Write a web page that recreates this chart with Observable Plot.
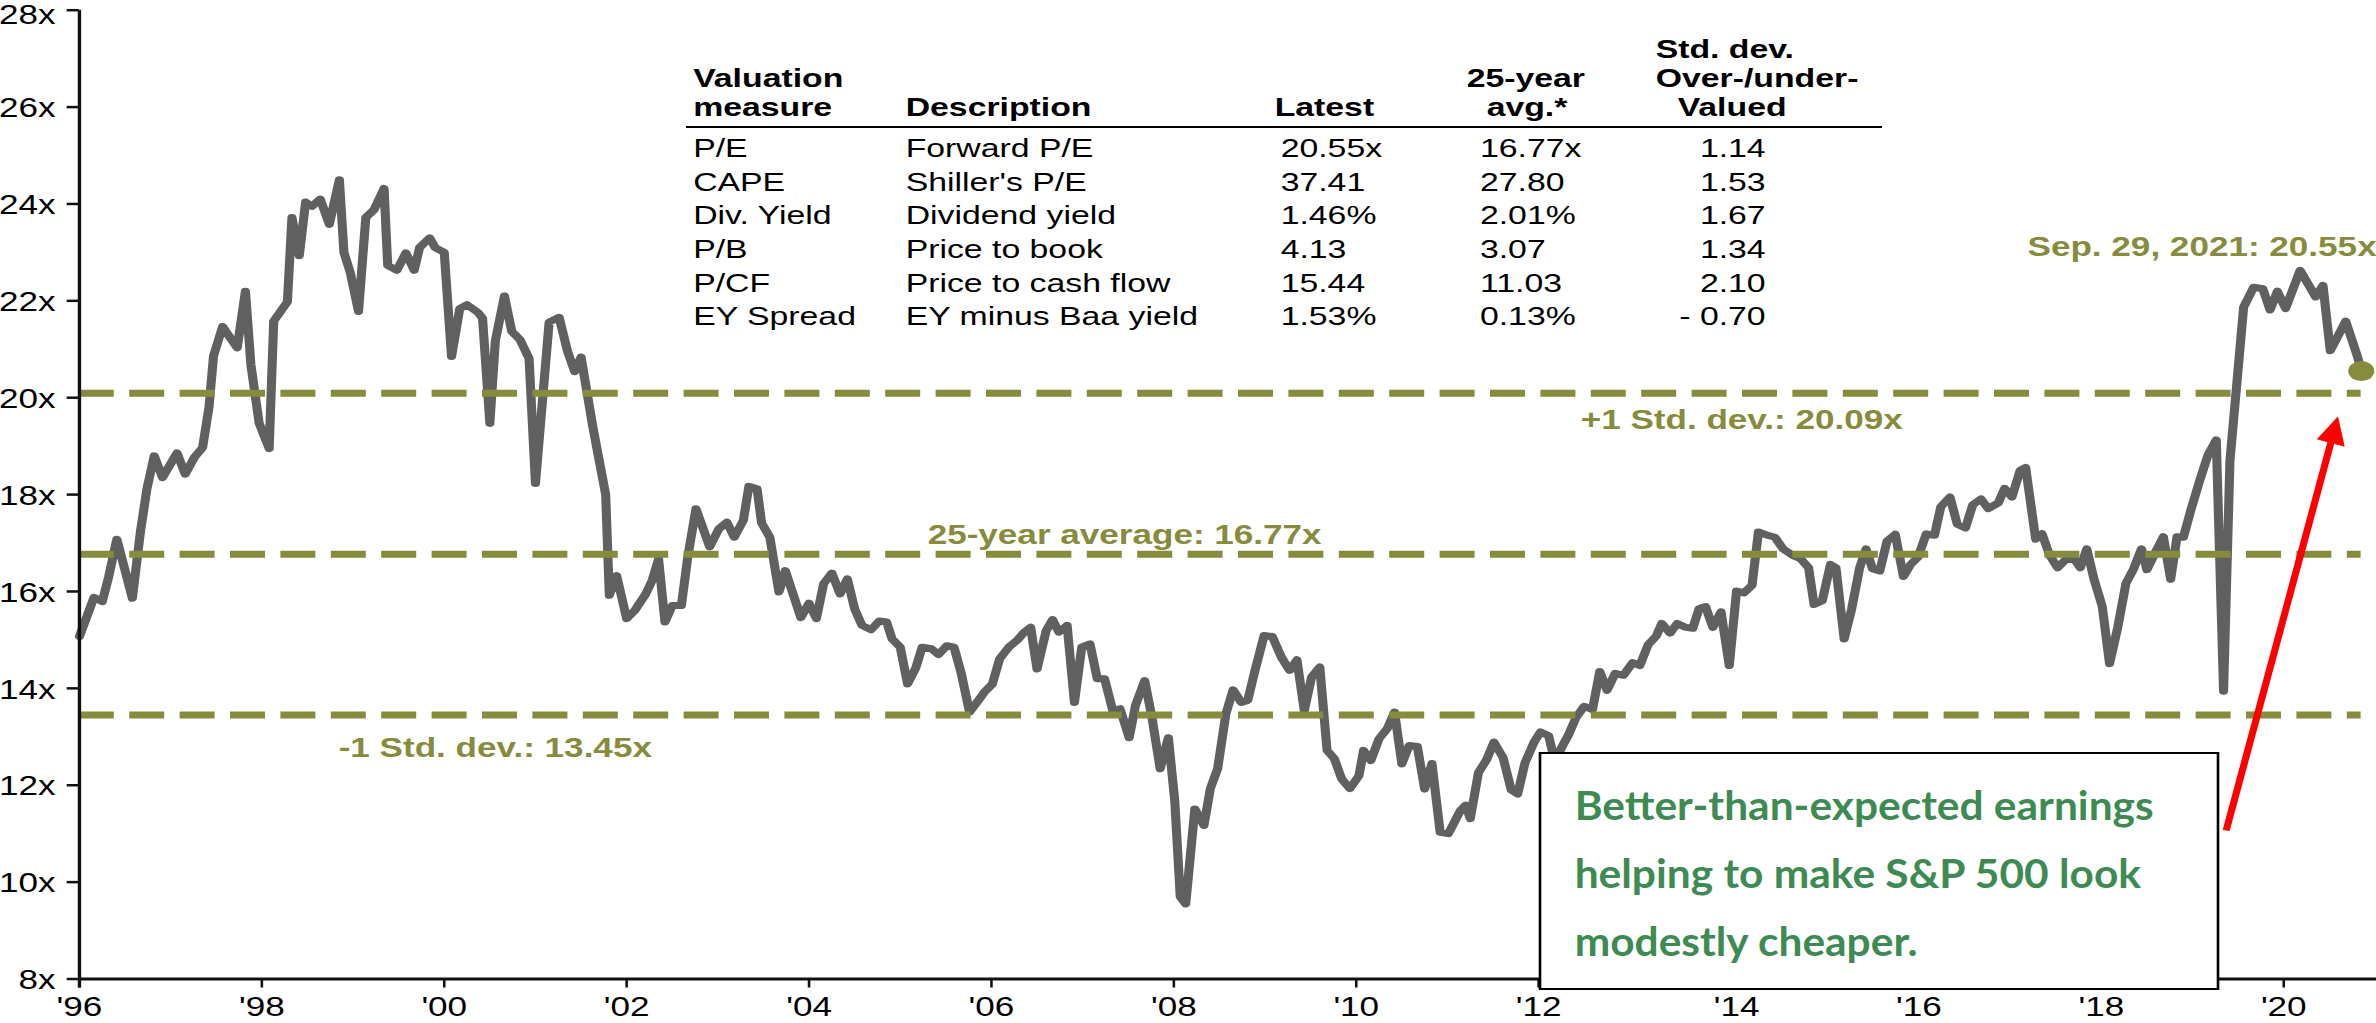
<!DOCTYPE html>
<html>
<head>
<meta charset="utf-8">
<script src="https://cdn.jsdelivr.net/npm/d3@7"></script>
<script src="https://cdn.jsdelivr.net/npm/@observablehq/plot@0.6"></script>
<style>
  html, body { margin: 0; padding: 0; background: #fff; }
  #chart { width: 2376px; height: 1023px; overflow: hidden; }
</style>
</head>
<body>
<div id="chart"></div>
<script>
// ---------------- DATA ----------------
// Position along the time axis (years, as laid out on the chart's axis)
const years = [
  1996.00,1996.16,1996.25,1996.32,1996.41,1996.58,1996.67,1996.74,1996.82,1996.91,
  1997.07,1997.16,1997.26,1997.35,1997.42,1997.47,1997.57,1997.66,1997.73,1997.82,
  1997.88,1997.97,1998.08,1998.13,1998.28,1998.33,1998.41,1998.48,1998.55,1998.64,
  1998.74,1998.85,1998.90,1998.97,1999.06,1999.14,1999.23,1999.34,1999.38,1999.48,
  1999.58,1999.67,1999.73,1999.84,1999.90,2000.00,2000.08,2000.17,2000.25,2000.37,
  2000.42,2000.50,2000.56,2000.66,2000.74,2000.83,2000.93,2001.00,2001.15,2001.26,
  2001.35,2001.43,2001.50,2001.63,2001.77,2001.81,2001.89,2002.00,2002.09,2002.21,
  2002.28,2002.35,2002.42,2002.50,2002.60,2002.67,2002.76,2002.91,2003.01,2003.10,
  2003.18,2003.28,2003.34,2003.43,2003.48,2003.57,2003.67,2003.74,2003.91,2004.00,
  2004.08,2004.16,2004.25,2004.34,2004.42,2004.50,2004.58,2004.68,2004.77,2004.85,
  2004.91,2005.00,2005.08,2005.17,2005.24,2005.34,2005.42,2005.51,2005.59,2005.67,
  2005.76,2005.84,2005.93,2006.01,2006.09,2006.19,2006.28,2006.36,2006.43,2006.50,
  2006.60,2006.67,2006.74,2006.83,2006.91,2006.99,2007.08,2007.16,2007.24,2007.33,
  2007.41,2007.51,2007.58,2007.68,2007.76,2007.85,2007.94,2008.01,2008.07,2008.13,
  2008.23,2008.33,2008.40,2008.48,2008.57,2008.65,2008.74,2008.81,2008.89,2008.99,
  2009.08,2009.18,2009.27,2009.35,2009.43,2009.51,2009.60,2009.68,2009.76,2009.84,
  2009.93,2010.03,2010.08,2010.16,2010.25,2010.34,2010.42,2010.50,2010.58,2010.67,
  2010.75,2010.83,2010.92,2011.01,2011.14,2011.20,2011.25,2011.34,2011.43,2011.51,
  2011.61,2011.70,2011.77,2011.85,2011.95,2012.02,2012.11,2012.18,2012.25,2012.33,
  2012.41,2012.50,2012.59,2012.67,2012.75,2012.84,2012.93,2013.03,2013.11,2013.20,
  2013.29,2013.35,2013.44,2013.52,2013.61,2013.69,2013.76,2013.83,2013.91,2014.00,
  2014.09,2014.17,2014.25,2014.34,2014.41,2014.51,2014.59,2014.68,2014.79,2014.87,
  2014.96,2015.02,2015.11,2015.20,2015.26,2015.35,2015.43,2015.52,2015.59,2015.66,
  2015.74,2015.82,2015.91,2016.00,2016.08,2016.16,2016.25,2016.34,2016.41,2016.51,
  2016.59,2016.68,2016.76,2016.85,2016.93,2017.04,2017.11,2017.19,2017.28,2017.34,
  2017.45,2017.52,2017.60,2017.69,2017.77,2017.87,2017.94,2018.01,2018.09,2018.18,
  2018.26,2018.35,2018.44,2018.52,2018.61,2018.67,2018.76,2018.85,2018.93,2019.00,
  2019.07,2019.15,2019.25,2019.34,2019.43,2019.51,2019.58,2019.73,2019.84,2019.94,
  2020.02,2020.10,2020.19,2020.35,2020.52,2020.60,2020.68,2020.85,2020.98,2021.02
];
// S&P 500 forward P/E ratio
const forwardPE = [
  15.07,15.88,15.79,16.30,17.08,15.86,17.25,18.12,18.80,18.35,
  18.86,18.42,18.77,18.97,19.80,20.86,21.47,21.22,21.03,22.20,
  20.68,19.48,18.95,21.58,21.98,23.72,22.93,24.04,23.95,24.10,
  23.58,24.50,23.00,22.58,21.78,23.72,23.88,24.32,22.73,22.63,
  22.99,22.63,23.10,23.30,23.10,23.00,20.85,21.84,21.92,21.76,
  21.64,19.47,21.17,22.10,21.37,21.20,20.81,18.23,21.56,21.66,
  20.97,20.54,20.84,19.39,18.00,15.92,16.33,15.44,15.61,15.95,
  16.23,16.67,15.37,15.71,15.71,16.71,17.71,16.92,17.29,17.43,
  17.12,17.47,18.17,18.12,17.41,17.12,15.99,16.43,15.46,15.76,
  15.44,16.16,16.38,15.95,16.26,15.64,15.30,15.21,15.39,15.37,
  15.02,14.85,14.09,14.42,14.85,14.82,14.70,14.88,14.85,14.30,
  13.51,13.71,13.94,14.09,14.61,14.85,14.99,15.16,15.26,14.40,
  15.19,15.42,15.16,15.30,13.71,14.85,14.92,14.20,14.20,13.54,
  13.58,12.98,13.65,14.16,13.40,12.34,12.98,11.68,9.70,9.55,
  11.51,11.17,11.93,12.34,13.47,13.97,13.71,13.75,14.37,15.09,
  15.07,14.64,14.37,14.59,13.54,14.23,14.44,12.72,12.55,12.13,
  11.93,12.20,12.72,12.51,12.96,13.17,13.51,12.44,12.82,12.80,
  11.92,12.45,11.03,11.00,11.47,11.59,11.31,12.26,12.53,12.89,
  12.57,11.90,11.82,12.46,12.89,13.10,13.02,12.46,12.77,13.05,
  13.40,13.63,13.56,14.35,13.96,14.31,14.27,14.53,14.47,14.90,
  15.08,15.34,15.14,15.34,15.26,15.24,15.65,15.69,15.26,15.58,
  14.47,16.01,15.97,16.13,17.23,17.16,17.12,16.88,16.74,16.68,
  16.49,15.73,15.81,16.56,16.49,15.02,15.62,16.49,16.88,16.47,
  16.42,17.04,17.18,16.31,16.56,16.71,17.19,17.16,17.75,17.95,
  17.39,17.31,17.79,17.91,17.71,17.83,18.13,17.95,18.50,18.56,
  17.08,17.19,16.76,16.49,16.64,16.68,16.49,16.88,16.25,15.69,
  14.51,15.26,16.17,16.45,16.88,16.45,16.80,17.13,16.25,17.13,
  17.12,17.67,18.30,18.82,19.13,13.94,18.70,21.87,22.28,22.25,
  21.81,22.20,21.84,22.63,22.08,22.32,20.97,21.58,20.84,20.55
];

const yTicks = [8, 10, 12, 14, 16, 18, 20, 22, 24, 26, 28];
const xTickPos = [1996, 1998, 2000, 2002, 2004, 2006, 2008, 2010, 2012, 2014.17, 2016.17, 2018.17, 2020.17];
const xTickLabels = ["'96", "'98", "'00", "'02", "'04", "'06", "'08", "'10", "'12", "'14", "'16", "'18", "'20"];

const refLevels = [20.09, 16.77, 13.45];
const refLabels = ["+1 Std. dev.: 20.09x", "25-year average: 16.77x", "-1 Std. dev.: 13.45x"];
const latestLabel = "Sep. 29, 2021: 20.55x";

const tableHeaders = ["Std. dev.", "Valuation", "25-year", "Over-/under-", "measure", "Description", "Latest", "avg.*", "Valued"];
const tableMeasures = ["P/E", "CAPE", "Div. Yield", "P/B", "P/CF", "EY Spread"];
const tableDescriptions = ["Forward P/E", "Shiller's P/E", "Dividend yield", "Price to book", "Price to cash flow", "EY minus Baa yield"];
const tableLatest = ["20.55x", "37.41", "1.46%", "4.13", "15.44", "1.53%"];
const tableAvg = ["16.77x", "27.80", "2.01%", "3.07", "11.03", "0.13%"];
const tableStdDev = ["1.14", "1.53", "1.67", "1.34", "2.10", "- 0.70"];

const boxLines = ["Better-than-expected earnings", "helping to make S&P 500 look", "modestly cheaper."];

// ---------------- LAYOUT ----------------
const OUT_W = 2376, OUT_H = 1023;
const W = 1828;                 // drawing width, stretched horizontally to OUT_W
const S = OUT_W / W;
const AXIS_X = 78.8, PX_PER_YEAR = 91.2;       // output-pixel layout of the time axis
const TOP_Y = 9.7, BOTTOM_Y = 978.5;           // output-pixel layout of the value axis
const XMAX = 1996 + (OUT_W - AXIS_X) / PX_PER_YEAR;
const xAt = px => 1996 + (px - AXIS_X) / PX_PER_YEAR;   // output px -> axis years
const yAt = py => 8 + (BOTTOM_Y - py) * 20 / (BOTTOM_Y - TOP_Y); // output px -> value

const olive = "#878B3C";
const lineGray = "#606060";
const green = "#3D8B52";
const sans = "'Liberation Sans', Arial, Helvetica, sans-serif";

const hdrX = [1655, 692.5, 1466, 1655, 692.5, 905, 1274, 1486, 1677];
const hdrBase = [57, 86, 86, 86, 115, 115, 115, 115, 115];
const rowBase = [156.7, 190.3, 223.9, 257.5, 291.1, 324.7];
const refLabelX = [1580, 927, 338];
const refLabelY = [420, 535, 748];
const boxBase = [819, 887, 955];

// arrow geometry (output px)
const tail = [2225.5, 830], tip = [2337, 417];
const headLen = 26, headHalf = 13.5;
const L = Math.hypot(tip[0] - tail[0], tip[1] - tail[1]);
const dir = [(tip[0] - tail[0]) / L, (tip[1] - tail[1]) / L];
const perp = [-dir[1], dir[0]];
const baseC = [tip[0] - dir[0] * headLen, tip[1] - dir[1] * headLen];
const head = [tip, [baseC[0] + perp[0] * headHalf, baseC[1] + perp[1] * headHalf],
              [baseC[0] - perp[0] * headHalf, baseC[1] - perp[1] * headHalf], tip];

const lastX = years[years.length - 1], lastY = forwardPE[forwardPE.length - 1];
const tickLen = 9 * 20 / (BOTTOM_Y - TOP_Y);
const yTop = yTicks[yTicks.length - 1];

const tableCol = (arr, px, anchor, weight) =>
  Plot.text(arr, {x: () => xAt(px), y: (d, i) => yAt(rowBase[i]), text: d => d,
    textAnchor: anchor, lineAnchor: "bottom", fontSize: 26, fontWeight: weight || "normal",
    fill: "#000", fontFamily: sans});

const yLabel = (ticks, dy) =>
  Plot.text(ticks, {x: () => 1996, y: d => d, dx: -(AXIS_X - 55) / S, dy, text: d => d + "x",
    textAnchor: "end", lineAnchor: "middle", fontSize: 27, fill: "#000"});

const chart = Plot.plot({
  width: W, height: OUT_H,
  marginLeft: AXIS_X / S, marginRight: 0, marginTop: TOP_Y, marginBottom: OUT_H - BOTTOM_Y,
  x: {domain: [1996, XMAX], axis: null},
  y: {domain: [8, 28], axis: null},
  style: {fontFamily: sans, fontSize: "27px", background: "white", overflow: "visible"},
  marks: [
    // data line
    Plot.line(forwardPE, {x: years, y: forwardPE, stroke: lineGray, strokeWidth: 7,
      strokeLinejoin: "round", strokeLinecap: "round"}),
    // reference lines
    Plot.ruleY(refLevels, {y: d => d, x1: () => 1996, x2: () => lastX, stroke: olive,
      strokeWidth: 7, strokeDasharray: `${35 / S} ${15.4 / S}`}),
    // axes
    Plot.ruleY(yTicks, {y: d => d, x1: () => xAt(66.7), x2: () => 1996, stroke: "#111", strokeWidth: 2.5}),
    yLabel(yTicks.filter(d => d !== yTop), 1.5),
    yLabel([yTop], 5),
    Plot.ruleX(xTickPos, {x: d => d, y1: () => 8, y2: () => 8 - tickLen, stroke: "#111", strokeWidth: 2}),
    Plot.text(xTickPos, {x: d => d, y: () => 8, dy: 18.2, text: (d, i) => xTickLabels[i],
      textAnchor: "middle", lineAnchor: "top", fontSize: 27, fill: "#000"}),
    Plot.ruleX([1996], {x: d => d, y1: () => 8 - tickLen, y2: () => 28, stroke: "#111", strokeWidth: 2.6}),
    Plot.ruleY([8], {y: d => d, x1: () => 1996, x2: () => XMAX, stroke: "#111", strokeWidth: 3}),
    // table
    Plot.text(tableHeaders, {x: (d, i) => xAt(hdrX[i]), y: (d, i) => yAt(hdrBase[i]), text: d => d,
      textAnchor: "start", lineAnchor: "bottom", fontSize: 26, fontWeight: "bold", fill: "#000"}),
    Plot.ruleY([yAt(126.5)], {y: d => d, x1: () => xAt(686), x2: () => xAt(1882), stroke: "#000", strokeWidth: 2}),
    tableCol(tableMeasures, 692.5, "start"),
    tableCol(tableDescriptions, 905, "start"),
    tableCol(tableLatest, 1280, "start"),
    tableCol(tableAvg, 1479.3, "start"),
    tableCol(tableStdDev, 1765, "end"),
    // reference labels
    Plot.text(refLabels, {x: (d, i) => xAt(refLabelX[i]), y: (d, i) => yAt(refLabelY[i]), text: d => d,
      textAnchor: "start", lineAnchor: "middle", fontSize: 27, fontWeight: "bold", fill: olive}),
    // latest value
    Plot.text([latestLabel], {x: () => XMAX, y: () => yAt(246.7), text: d => d,
      textAnchor: "end", lineAnchor: "middle", fontSize: 27, fontWeight: "bold", fill: olive}),
    Plot.dot([lastY], {x: () => lastX, y: d => d, r: 10, fill: olive, stroke: "none"}),
    // callout box
    Plot.rect([0], {x1: () => xAt(1540), x2: () => xAt(2218), y1: () => yAt(989), y2: () => yAt(753),
      fill: "white", stroke: "#000", strokeWidth: 2}),
    Plot.text(boxLines, {x: () => xAt(1574), y: (d, i) => yAt(boxBase[i]), text: d => d,
      textAnchor: "start", lineAnchor: "bottom", fontSize: 40, fontWeight: "bold",
      fontFamily: "Lato, 'Open Sans', sans-serif", fill: green}),
    // red arrow
    Plot.link([0], {x1: () => xAt(tail[0]), y1: () => yAt(tail[1]), x2: () => xAt(baseC[0]), y2: () => yAt(baseC[1]),
      stroke: "#FF0000", strokeWidth: 5.5}),
    Plot.line(head, {x: d => xAt(d[0]), y: d => yAt(d[1]), fill: "#FF0000", stroke: "#FF0000", strokeWidth: 1})
  ]
});

const host = document.getElementById("chart");
host.appendChild(chart);
chart.setAttribute("viewBox", `0 0 ${W} ${OUT_H}`);
chart.setAttribute("width", OUT_W);
chart.setAttribute("height", OUT_H);
chart.setAttribute("preserveAspectRatio", "none");
chart.style.width = OUT_W + "px";
chart.style.height = OUT_H + "px";
chart.style.maxWidth = "none";

// the callout text is not stretched in the reference: compress it back
const boxTexts = Array.from(chart.querySelectorAll("text")).filter(t => boxLines.includes(t.textContent));
if (boxTexts.length) {
  const nat = boxTexts.map(t => t.getComputedTextLength());
  const i0 = boxTexts.findIndex(t => t.textContent === boxLines[0]);
  const k = (579 / S) / nat[i0];
  boxTexts.forEach((t, i) => {
    t.setAttribute("textLength", nat[i] * k);
    t.setAttribute("lengthAdjust", "spacingAndGlyphs");
  });
}
</script>
</body>
</html>
